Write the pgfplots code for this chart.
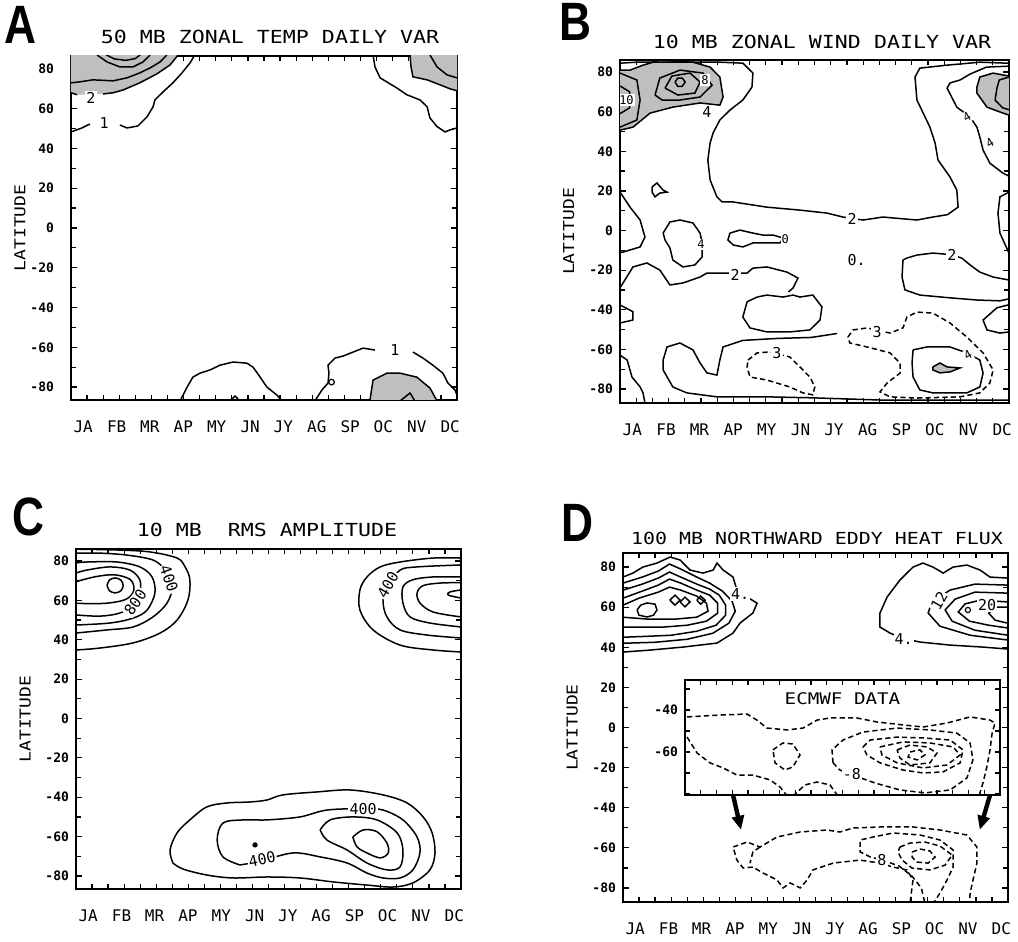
\documentclass[border=0pt]{standalone}
\usepackage{fontspec}
\setmainfont{DejaVu Sans Mono}
\newfontfamily\ttl{DejaVu Sans Mono}[FakeStretch=1.2]
\newfontfamily\lett{Liberation Sans}[FakeStretch=0.82]
\usepackage{pgfplots}
\pgfplotsset{compat=1.18}
\usetikzlibrary{arrows.meta}

\pgfplotsset{
  panel/.style={
    scale only axis, anchor=south west, xmin=0, xmax=12,
    xtick={0.38,1.42,2.45,3.49,4.53,5.57,6.60,7.64,8.68,9.71,10.75,11.79},
    xticklabels={JA,FB,MR,AP,MY,JN,JY,AG,SP,OC,NV,DC},
    major x tick style={draw=none},
    minor xtick={0,0.5,...,12},
    ytick={-80,-60,...,80}, yticklabels={-80,-60,-40,-20,0,20,40,60,80},
    minor ytick={-70,-50,...,70},
    tick align=inside, major tick length=3pt, minor tick length=2.5pt,
    tick style={black, line width=0.6pt},
    axis line style={line width=1pt},
    xticklabel style={font=\fontsize{8}{9}\selectfont, yshift=-7pt},
    yticklabel style={font=\bfseries\fontsize{6.5}{7}\selectfont},
    ylabel={LATITUDE},
    ylabel style={font=\ttl\fontsize{7.5}{8}\selectfont, at={(axis description cs:-0.132,0.5)}, anchor=center},
  },
  cl/.style={black, line width=0.75pt, no markers},
  sl/.style={cl, smooth, tension=0.55},
  dl/.style={cl, dash pattern=on 2.6pt off 1.6pt},
  sh/.style={fill=black!25, draw=none, no markers},
}
\tikzset{lab/.style={font=\fontsize{7.5}{8}\selectfont, fill=white, inner sep=0.6pt},
  letter/.style={font=\lett\bfseries\fontsize{27}{27}\selectfont}}

\begin{document}
\begin{tikzpicture}
\useasboundingbox (0,0) rectangle (509pt,471pt);

% titles and panel letters
\node[letter] at (10pt,458.5pt) {A};
\node[letter] at (287.5pt,460pt) {B};
\node[letter] at (14pt,212.5pt) {C};
\node[letter] at (288.5pt,209.5pt) {D};
\node[font=\ttl\fontsize{9}{10}\selectfont] at (135pt,452.5pt) {50 MB ZONAL TEMP DAILY VAR};
\node[font=\ttl\fontsize{9}{10}\selectfont] at (411pt,450pt) {10 MB ZONAL WIND DAILY VAR};
\node[font=\ttl\fontsize{9}{10}\selectfont] at (133.5pt,206pt) {10 MB\ \ RMS AMPLITUDE};
\node[font=\ttl\fontsize{8.3}{9}\selectfont] at (408.5pt,202pt) {100 MB NORTHWARD EDDY HEAT FLUX};

% ---------------- A ----------------
\begin{axis}[panel, at={(35.5pt,271pt)}, width=193pt, height=172pt,
  ymin=-86.5, ymax=86.5, yticklabel style={xshift=-5pt}]
\addplot[sh] coordinates {(0,87)(0,68)(0.19,67)(1.0,67.4)(1.31,68)(1.62,69.4)(2.14,73)(2.67,77.5)(3.08,82)(3.33,87)};
\addplot[sh] coordinates {(10.54,87)(10.57,81)(10.63,76)(11.07,74.5)(11.47,72)(11.78,70)(12,69)(12,87)};
\addplot[sh] coordinates {(9.29,-87)(9.39,-76.5)(9.82,-73)(10.23,-73)(10.75,-75)(11.16,-80.5)(11.38,-87)};
\addplot[cl] coordinates {(0,68)(0.19,67)};
\addplot[cl] coordinates {(1.0,67.4)(1.31,68)(1.62,69.4)(2.14,73)(2.67,77.5)(3.08,82)(3.33,87)};
\addplot[cl] coordinates {(0,73)(0.28,73.5)(0.68,74.5)(1.31,74)(1.74,75.5)(2.14,78)(2.46,80.5)(2.77,83.5)(2.98,87)};
\addplot[cl] coordinates {(0.81,87)(1.12,83.5)(1.52,81)(1.93,81)(2.24,83.5)(2.46,87)};
\addplot[cl] coordinates {(1.1,87)(1.35,85)(1.7,84.3)(2.0,85.2)(2.15,87)};
\addplot[cl] coordinates {(0,48.3)(0.34,50.3)(0.59,52.3)};
\addplot[cl] coordinates {(1.52,51.8)(1.74,50.3)(2.08,51.3)(2.36,55.8)(2.55,60.9)(2.61,64.4)(2.86,68.4)(3.17,73)(3.45,78)(3.70,83)(3.85,87)};
\addplot[cl] coordinates {(10.54,87)(10.57,81)(10.63,76)(11.07,74.5)(11.47,72)(11.78,70)(12,69)};
\addplot[cl] coordinates {(11.16,87)(11.38,81)(11.69,77)(12,75.5)};
\addplot[cl] coordinates {(9.39,87)(9.45,81)(9.61,75.5)(10.13,70.4)(10.44,67)(10.85,64.4)(11.07,61)(11.16,55.3)(11.38,51)(11.63,48.3)(11.78,49.3)(12,50.3)};
\addplot[cl] coordinates {(3.39,-87)(3.61,-80)(3.79,-75)(4.01,-73)(4.32,-71.4)(4.63,-69)(5.04,-67.4)(5.47,-68)(5.66,-70)(5.88,-75)(6.09,-80)(6.40,-84)(6.56,-87)};
\addplot[cl] coordinates {(4.94,-87)(5.1,-84.5)(5.25,-87)};
\addplot[cl] coordinates {(7.58,-87)(7.80,-81.5)(7.99,-78)(8.02,-73)(7.99,-69)(8.21,-65.4)(8.46,-64.4)(8.77,-62.4)(9.08,-60.4)(9.45,-61.4)};
\addplot[cl] coordinates {(10.63,-62.4)(10.94,-65.4)(11.25,-69)(11.56,-73)(11.72,-78)(11.94,-81.5)(12,-84)};
\addplot[cl] coordinates {(9.29,-87)(9.39,-76.5)(9.82,-73)(10.23,-73)(10.75,-75)(11.16,-80.5)(11.38,-87)};
\addplot[cl] coordinates {(10.23,-87)(10.54,-83)(10.69,-87)};
\addplot[only marks, mark=o, mark size=1.4pt, black, mark options={fill=white, line width=0.6pt}] coordinates {(8.1,-77.5)};
\node[lab] at (axis cs:0.62,65.5) {2};
\node[lab] at (axis cs:1.03,53) {1};
\node[lab] at (axis cs:10.07,-61.4) {1};
\end{axis}

% ---------------- B ----------------
\begin{axis}[panel, at={(310pt,269.5pt)}, width=194.5pt, height=171.5pt,
  ymin=-87.1, ymax=86.1]
\addplot[sh] coordinates {(0,50.7)(0.40,52.2)(0.93,59.3)(1.63,62.3)(2.47,64.4)(3.08,63.3)(3.18,67.4)(3.08,77.5)(2.78,82.5)(2.25,85)(1.23,86)(0.71,83.5)(0.31,81)(0,81)};
\addplot[sh] coordinates {(12,78)(11.51,79.5)(11.10,77.5)(11.01,72.4)(11.01,69.4)(11.32,62.3)(11.81,59.3)(12,58.3)};
\addplot[sh] coordinates {(9.65,-68.9)(9.87,-66.9)(10.09,-68.9)(10.49,-69.4)(10.18,-71.4)(9.87,-71.9)(9.65,-70.4)};
% large "2" contour
\addplot[cl] coordinates {(0,84.5)(0.52,85)(3.08,85)(3.79,84.5)(4.10,79.5)(4.07,72.4)(3.79,65.9)(3.39,60.8)(3.08,55.8)(2.87,49.2)(2.78,44.2)(2.71,35.6)(2.78,25.5)(2.99,17)(3.15,14.4)(3.49,14.4)(4.53,11.8)(5.55,10.3)(6.38,8.8)(6.88,6.8)(7.50,5.3)(8.11,6.8)(9.16,5.3)(9.65,6.8)(10.1,8)(10.43,11.8)(10.39,20.4)(10.18,27)(9.81,35.6)(9.72,44.2)(9.56,52.2)(9.16,65.9)(9.10,77.5)(9.25,82)(10.09,83.5)(11.10,85)(11.94,84.5)(12,84.5)};
% NH high, left
\addplot[cl] coordinates {(0,50.7)(0.40,52.2)(0.93,59.3)(1.63,62.3)(2.47,64.4)(3.08,63.3)(3.18,67.4)(3.08,77.5)(2.78,82.5)(2.25,85)(1.23,86)(0.71,83.5)(0.31,81)(0,81)};
\addplot[cl] coordinates {(1.08,68.4)(1.23,77)(1.85,81)(2.56,79.5)(2.84,73.4)(2.47,67.4)(1.85,65.9)(1.30,65.9)(1.08,68.4)};
\addplot[cl] coordinates {(1.39,71.9)(1.60,78)(2.16,79.5)(2.47,75)(2.31,69.4)(1.79,68.4)(1.39,71.9)};
\addplot[cl] coordinates {(1.70,75)(1.78,77)(1.92,77)(2.01,75)(1.92,72.8)(1.78,72.8)(1.70,75)};
\addplot[cl] coordinates {(0,79.5)(0.52,76)(0.62,65.9)(0.52,55.8)(0,52.2)};
\addplot[cl] coordinates {(0,73)(0.3,70)(0.3,62)(0,59)};
% NH high, right
\addplot[cl] coordinates {(12,78)(11.51,79.5)(11.10,77.5)(11.01,72.4)(11.01,69.4)(11.32,62.3)(11.81,59.3)(12,58.3)};
\addplot[cl] coordinates {(12,77.5)(11.7,76)(11.63,72)(11.57,65.9)(11.8,62)(12,61)};
\addplot[cl] coordinates {(12,83)(11.3,82.5)(10.8,79)(10.49,76)(10.18,74.5)(10.09,71.9)(10.39,62.3)(10.8,57.3)(11.01,52.2)(11.10,47.2)(11.20,40.6)(11.41,34)(11.81,29)(12,27.5)};
\addplot[cl] coordinates {(12,19.4)(11.72,17)(11.66,8.8)(11.72,-1.3)(12,-11.4)};
% tropics
\addplot[cl] coordinates {(0,19.4)(0.31,11.8)(0.62,5.3)(0.77,-3.3)(0.62,-8.3)(0.09,-10.9)(0,-10.9)};
\addplot[cl] coordinates {(0.99,22)(1.14,24)(1.33,20.4)(1.45,19.4)(1.23,18.9)(1.08,17)(0.99,19.4)(0.99,22)};
\addplot[cl] coordinates {(1.33,-1.3)(1.54,4.3)(1.85,5.3)(2.25,3.8)(2.47,-1.3)(2.53,-6.3)(2.53,-13.4)(2.31,-17.4)(1.94,-18.4)(1.63,-14.9)(1.54,-8.8)(1.39,-4.8)(1.33,-1.3)};
\addplot[cl] coordinates {(3.39,-1.3)(3.70,0.2)(4.10,-1.3)(4.41,-2.3)(4.72,-2.3)(5.03,-3.8)(4.94,-6.3)(4.53,-6.3)(4.10,-6.3)(3.79,-8.3)(3.49,-7.3)(3.33,-4.8)(3.39,-1.3)};
\addplot[cl] coordinates {(0,-29)(0.40,-18.4)(0.83,-16.4)(1.23,-20)(1.54,-27.5)(1.94,-26.5)(2.47,-23.5)(2.68,-21.5)(3.15,-21.5)(3.92,-21.5)(4.10,-19)(4.53,-18.4)(5.15,-21)(5.49,-24)(5.34,-29)(5.2,-31)};
\addplot[cl] coordinates {(3.92,-36)(4.23,-33.6)(4.53,-32.6)(5.03,-33.6)(5.34,-32.6)(5.55,-33.6)(5.95,-32.6)(6.23,-38.6)(6.17,-45.2)(5.86,-50.2)(5.24,-51.2)(4.53,-51.2)(4.01,-49.2)(3.79,-43.7)(3.92,-36)};
\addplot[cl] coordinates {(12,-25)(11.51,-23.5)(11.10,-21)(10.80,-17.4)(10.55,-14)(10.24,-12.2)(9.65,-11.4)(9.16,-12.4)(8.85,-13.9)(8.73,-14.9)(8.70,-23.5)(8.79,-30)(9.25,-32.6)(10.18,-34)(11.01,-35.1)(11.72,-35.5)(12,-34.5)};
\addplot[cl] coordinates {(12,-37.5)(11.63,-39)(11.20,-45.2)(11.32,-50.2)(11.72,-51.8)(12,-51.2)};
% SH
\addplot[cl] coordinates {(0,-37.6)(0.40,-41)(0.40,-45.2)(0,-46.7)};
\addplot[cl] coordinates {(0,-62.9)(0.22,-65.4)(0.37,-74)(0.62,-79)(0.71,-82)(0.77,-87.1)};
\addplot[cl] coordinates {(12,-85.6)(8.02,-85.6)(5.95,-84.5)(4.53,-84)(2.99,-84)(2.06,-82)(1.63,-79)(1.33,-70.4)(1.33,-65.4)(1.45,-58.8)(1.85,-56.8)(2.25,-60.3)(2.47,-66.9)(2.68,-71.9)(2.99,-73)(3.08,-65.4)(3.18,-58.8)(3.79,-55.5)(4.84,-54.5)(5.9,-54)(6.7,-52)};
\addplot[dl] coordinates {(3.95,-65.4)(4.23,-61.8)(4.63,-61.3)(5.24,-63.9)(5.55,-68.9)(5.86,-74)(6.01,-79)(5.95,-83)(5.64,-82)(5.24,-79)(4.53,-75.5)(4.01,-74)(3.92,-68.9)(3.95,-65.4)};
\addplot[dl] coordinates {(7.03,-53.8)(7.19,-50.2)(7.62,-49.2)(8.33,-51.8)(8.73,-49.2)(8.85,-43.7)(9.16,-41.2)(9.65,-41.7)(10.18,-46.7)(10.70,-53.8)(11.20,-61.8)(11.51,-70.4)(11.41,-77)(11.10,-82)(10.49,-84)(9.16,-84.6)(8.33,-84)(8.02,-81.5)(8.24,-77)(8.64,-72)(8.64,-67)(8.33,-61.8)(7.62,-58.8)(7.09,-56.8)(7.03,-53.8)};
\addplot[cl] coordinates {(9.04,-60.3)(9.47,-58.8)(10.18,-58.8)(10.70,-61.8)(11.10,-65.4)(11.20,-72)(11.10,-79)(10.70,-82)(9.65,-82)(9.25,-80.5)(9.04,-74)(9.01,-66.9)(9.04,-60.3)};
\addplot[cl] coordinates {(9.65,-68.9)(9.87,-66.9)(10.09,-68.9)(10.49,-69.4)(10.18,-71.4)(9.87,-71.9)(9.65,-70.4)(9.65,-68.9)};
\node[lab] at (axis cs:7.16,5.8) {2};
\node[lab] at (axis cs:3.55,-22.5) {2};
\node[lab] at (axis cs:10.24,-12.5) {2};
\node[lab] at (axis cs:4.84,-61.8) {3};
\node[lab] at (axis cs:7.93,-51.5) {3};
\node[lab] at (axis cs:2.68,59.8) {4};
\node[lab, font=\fontsize{6}{6}\selectfont] at (axis cs:2.62,76) {8};
\node[lab, font=\fontsize{6}{6}\selectfont] at (axis cs:0.2,66) {10};
\node[lab, font=\fontsize{6}{6}\selectfont, rotate=30] at (axis cs:10.73,-62.9) {4};
\node[lab, font=\fontsize{6}{6}\selectfont, rotate=30] at (axis cs:10.7,57.3) {4};
\node[lab, font=\fontsize{6}{6}\selectfont, rotate=30] at (axis cs:11.41,44.2) {4};
\node[lab, font=\fontsize{6}{6}\selectfont] at (axis cs:2.5,-7) {4};
\node[lab, font=\fontsize{6}{6}\selectfont] at (axis cs:5.1,-4.5) {0};
\node[font=\fontsize{7.5}{8}\selectfont] at (axis cs:7.3,-15) {0.};
\end{axis}

% ---------------- C ----------------
\begin{axis}[panel, at={(38pt,26.5pt)}, width=192.5pt, height=170pt,
  ymin=-86.6, ymax=86.1]
\addplot[sl] coordinates {(0,34.8)(0.75,35.8)(1.78,38.4)(2.62,43.4)(3.15,50)(3.49,60.2)(3.55,70.4)(3.40,77)(3.15,81.5)(2.31,84.6)(1.28,85.6)(0,86)};
\addplot[sl] coordinates {(0,43.4)(0.97,45)(1.78,46.5)(2.40,51.6)(2.84,58.7)(2.99,66.8)(2.77,75.4)(2.40,80.5)(1.59,83)(0.75,84)(0,84)};
\addplot[sl] coordinates {(0,47.5)(1.06,48.5)(1.78,51)(2.21,55)(2.46,63.7)(2.37,71.9)(1.99,77)(1.28,79.5)(0.34,79.5)(0,79)};
\addplot[sl] coordinates {(0,52.6)(0.75,52)(1.37,53.6)(1.85,58)(1.99,63.7)(1.99,70.4)(1.68,75.4)(1.06,77)(0.34,75.4)(0,73.9)};
\addplot[sl] coordinates {(0,58.5)(0.9,58.5)(1.55,60.5)(1.8,65)(1.7,70.5)(1.2,73)(0.6,72)(0,69.5)};
\addplot[sl] coordinates {(0.97,67.6)(1.04,70.3)(1.22,71.4)(1.40,70.3)(1.47,67.6)(1.40,64.9)(1.22,63.8)(1.04,64.9)(0.97,67.6)};
\addplot[sl] coordinates {(12,33.8)(11.13,34.8)(10.10,37.3)(9.26,45)(8.85,55.1)(8.85,65.3)(9.07,71.9)(9.48,77)(10.10,79.5)(11.13,81.5)(12,81.5)};
\addplot[sl] coordinates {(12,40.9)(10.94,42.4)(10.10,45)(9.69,51.6)(9.57,60.2)(9.75,68)(10.10,75.4)(10.63,77)(12,78)};
\addplot[sl] coordinates {(12,46.5)(11.03,48.5)(10.41,51.6)(10.19,58.7)(10.19,66.8)(10.50,70.5)(11.13,71.9)(12,71.9)};
\addplot[sl] coordinates {(12,51.6)(11.13,54.1)(10.72,58.7)(10.63,63.7)(10.82,67.5)(11.35,68.8)(12,69)};
\addplot[sl] coordinates {(12,65.3)(11.66,64.3)(11.6,62.7)(12,61.2)};
\addplot[sl] coordinates {(3.02,-73.4)(2.93,-66.8)(3.15,-58.1)(3.55,-51.5)(4.08,-44.9)(4.71,-42.9)(5.42,-42.4)(5.95,-41.4)(6.45,-38.8)(7.51,-37.3)(8.54,-36.3)(9.57,-38.8)(10.32,-42.9)(10.82,-50)(11.10,-58.1)(11.19,-68.3)(11.03,-76.9)(10.50,-83.5)(9.88,-85.6)(9.07,-84.6)(8.01,-83)(6.98,-81)(5.95,-80.5)(4.89,-81)(4.08,-79.5)(3.34,-76.5)(3.02,-73.4)};
\addplot[sl] coordinates {(5.11,-74.4)(4.58,-70.3)(4.40,-61.7)(4.58,-53.1)(5.21,-51.5)(5.95,-51.5)(6.98,-50)(7.82,-46.5)(8.95,-45.8)(9.57,-46.5)(10.19,-51.5)(10.63,-60.2)(10.72,-68.3)(10.50,-76.9)(10.10,-81)(9.57,-81)(9.07,-78.5)(8.45,-73.4)(7.61,-70.3)(6.76,-68.3)(5.74,-72.5)(5.11,-74.4)};
\addplot[sl] coordinates {(7.61,-56.6)(7.92,-51.5)(8.63,-50)(9.38,-51.5)(10.01,-58.1)(10.19,-66.8)(10.10,-75.4)(9.69,-76.9)(9.07,-73.4)(8.45,-66.8)(7.82,-61.7)(7.61,-56.6)};
\addplot[sl] coordinates {(8.63,-60.2)(8.95,-56.6)(9.38,-57.5)(9.69,-63.2)(9.73,-68.3)(9.48,-70.8)(9.07,-68.3)(8.76,-65.2)(8.63,-60.2)};
\addplot[only marks, mark=*, mark size=1.1pt, black] coordinates {(5.58,-64.2)};
\node[lab, rotate=-70] at (axis cs:2.9,71) {400};
\node[lab, rotate=55] at (axis cs:1.85,59) {800};
\node[lab, rotate=60] at (axis cs:9.72,68) {400};
\node[lab] at (axis cs:8.95,-46) {400};
\node[lab, rotate=12] at (axis cs:5.8,-71.5) {400};
\end{axis}

% ---------------- D ----------------
\begin{axis}[panel, at={(311.5pt,20pt)}, width=192.5pt, height=174.5pt,
  ymin=-87, ymax=87]
\addplot[cl] coordinates {(0,37.6)(0.84,38.6)(1.87,40.1)(2.93,42.1)(3.43,47.1)(3.65,52.1)(4.05,57.1)(4.18,62)(3.87,65)(3.55,68.5)(3.43,75)(3.12,78.5)(2.93,82)(2.81,78.5)(2.49,77)(2.09,78.5)(1.78,83.5)(1.47,85)(1.06,82)(0.62,80)(0.31,77)(0,75)};
\addplot[cl] coordinates {(0,72)(0.6,75)(1.1,78)(1.45,81.5)(1.8,79)(2.3,75)(2.7,72)(3.1,68)(3.4,63)(3.5,58)(3.3,52)(2.8,47)(2.0,44)(1.0,42.5)(0,42)};
\addplot[cl] coordinates {(0,68.5)(0.6,71.5)(1.1,74.5)(1.45,77.5)(1.8,75)(2.3,71.5)(2.7,69)(3.0,66)(3.2,61)(3.2,56)(2.9,51)(2.3,48)(1.5,46)(0.8,45.5)(0,45)};
\addplot[cl] coordinates {(0,64.5)(0.6,68)(1.1,71)(1.45,74)(1.8,72)(2.3,68.5)(2.7,66)(2.95,62)(2.95,57)(2.6,53)(2.0,51)(1.2,50)(0.5,50)(0,50)};
\addplot[cl] coordinates {(0,61)(0.5,64.5)(1.1,67.5)(1.45,70)(1.8,68.5)(2.3,65.5)(2.6,62)(2.65,58)(2.3,55)(1.6,54)(0.8,54)(0,55)};
\addplot[cl] coordinates {(0.44,58.6)(0.55,61)(0.75,62.1)(1.0,61.5)(1.06,58.6)(0.95,56)(0.75,55.1)(0.5,56)(0.44,58.6)};
\addplot[cl] coordinates {(1.46,63.5)(1.62,66)(1.78,63.5)(1.62,61)(1.46,63.5)};
\addplot[cl] coordinates {(1.78,62.6)(1.93,65)(2.09,62.6)(1.93,60.2)(1.78,62.6)};
\addplot[cl] coordinates {(2.3,63.5)(2.42,65.5)(2.56,63.5)(2.42,61.5)(2.3,63.5)};
\addplot[cl] coordinates {(12,39.1)(11.22,40.1)(10.19,41.1)(9.26,42.6)(8.70,44.5)(8.32,47.1)(8.01,50.1)(8.01,57.1)(8.23,65)(8.63,73.5)(9.04,80)(9.35,82)(9.66,80)(9.98,77)(10.29,80)(10.72,81)(11.13,78.5)(11.44,75)(12,74.5)};
\addplot[cl] coordinates {(12,71)(10.97,71.5)(10.19,68.5)(9.63,62.6)(9.51,57.1)(9.88,50.5)(10.82,46)(12,43.6)};
\addplot[cl] coordinates {(12,67)(10.97,67.5)(10.35,64)(10.04,58.6)(10.26,53)(10.97,48.5)(12,46)};
\addplot[cl] coordinates {(12,62.6)(11.13,63.5)(10.66,61.6)(10.45,57.6)(10.8,53)(11.4,51)(12,49.6)};
\addplot[cl] coordinates {(12,60)(11.6,60)(11.4,57)(11.6,53.5)(12,52)};
\addplot[only marks, mark=o, mark size=1.3pt, black, mark options={line width=0.6pt}] coordinates {(10.75,58.6)};
% SH dashed
\addplot[dl] coordinates {(8.95,-87)(9.04,-76)(8.85,-71)(8.42,-69.6)(8.01,-67.6)(7.39,-66.1)(6.55,-67.6)(5.92,-71)(5.74,-76)(5.52,-80)(5.21,-77.5)(4.99,-80)(4.80,-76)(4.36,-72.5)(4.05,-69.6)(3.74,-70)(3.55,-66.1)(3.43,-59.6)(3.87,-57.1)(4.27,-59.6)(4.80,-54.6)(5.52,-52.1)(6.36,-51.1)(6.76,-52.1)(7.17,-50.1)(8.01,-49.6)(9.04,-49.6)(9.88,-51.1)(10.72,-53.6)(11.03,-59.6)(11.03,-67.6)(10.91,-76)(10.82,-82.5)(10.8,-87)};
\addplot[dl] coordinates {(4.27,-59.6)(4.05,-62)(3.96,-67.6)};
\addplot[dl] coordinates {(9.4,-87)(9.3,-80)(9.0,-74)(8.6,-69)(8.07,-66.1)(7.7,-64.5)(7.39,-62)(7.39,-56.1)(7.79,-54.6)(8.42,-52.6)(9.26,-53.6)(9.88,-56.1)(10.29,-61.1)(10.29,-69.6)(10.10,-76)(9.88,-82.5)(9.7,-87)};
\addplot[dl] coordinates {(8.63,-59.6)(8.95,-57.6)(9.41,-57.1)(9.88,-59.1)(10.26,-63.6)(10.04,-68.6)(9.57,-71)(9.01,-70.1)(8.70,-66.1)(8.57,-62.1)(8.63,-59.6)};
\addplot[dl] coordinates {(9.01,-62.1)(9.26,-60.6)(9.57,-61.6)(9.73,-64.6)(9.51,-67.6)(9.16,-67.1)(9.01,-64.6)(9.01,-62.1)};
\node[lab] at (axis cs:3.65,66.5) {4.};
\node[lab] at (axis cs:8.75,44.3) {4.};
\node[lab, rotate=60] at (axis cs:9.85,63) {12};
\node[lab] at (axis cs:11.35,61) {20};
\node[lab] at (axis cs:8.07,-66.1) {8};
\draw[-{Triangle[length=7pt,width=6pt]}, line width=2.2pt] (axis cs:3.43,-33.7) -- (axis cs:3.68,-51);
\draw[-{Triangle[length=7pt,width=6pt]}, line width=2.2pt] (axis cs:11.44,-33.7) -- (axis cs:11.12,-51);
\end{axis}

% inset (ECMWF)
\begin{axis}[scale only axis, anchor=south west, at={(342.5pt,73.5pt)}, width=157.5pt, height=57.5pt,
  xmin=0, xmax=12, ymin=-80.5, ymax=-25.7,
  axis background/.style={fill=white},
  xtick={0,0.6,...,12}, xticklabels={},
  ytick={-40,-60}, yticklabels={-40,-60}, minor ytick={-30,-50,-70,-80},
  tick align=inside, major tick length=2.5pt, minor tick length=2.5pt,
  tick style={black, line width=0.6pt}, axis line style={line width=1pt},
  yticklabel style={font=\bfseries\fontsize{6.5}{7}\selectfont}]
\addplot[dl] coordinates {(0.08,-43.3)(1.33,-42.4)(2.36,-41.9)(2.74,-44.8)(3.12,-48.6)(3.89,-49.5)(4.50,-48.6)(5.03,-44.8)(5.52,-43.8)(6.55,-43.8)(7.31,-45.7)(8.30,-47.1)(9.07,-48.1)(9.98,-46.2)(10.86,-43.3)(11.62,-44.8)(11.81,-46.2)(11.70,-51)(11.62,-59)(11.50,-67)(11.35,-74.8)(11.2,-81)};
\addplot[dl] coordinates {(0.08,-52.9)(0.46,-60.5)(0.95,-65.2)(1.45,-67.6)(1.98,-71)(2.59,-71)(3.24,-73.3)(3.62,-76.7)(3.9,-81)};
\addplot[dl] coordinates {(3.35,-59)(3.73,-55.7)(4.11,-56.2)(4.38,-61.4)(4.11,-67.1)(3.81,-68.6)(3.43,-65.2)(3.35,-59)};
\addplot[dl] coordinates {(4.11,-81)(4.57,-75.7)(5.03,-74.3)(5.52,-75.7)(5.83,-81)};
\addplot[dl] coordinates {(5.64,-65.2)(5.60,-59)(6.02,-54.3)(6.78,-50.5)(8.08,-48.6)(9.33,-49.5)(10.36,-51)(10.86,-55.7)(10.97,-63.8)(10.74,-72.4)(10.10,-78.1)(9.14,-79.5)(8.19,-78.1)(7.24,-74.8)(6.48,-71.4)(5.90,-68.6)(5.64,-65.2)};
\addplot[dl] coordinates {(6.78,-57.6)(7.05,-54.3)(8.08,-52.9)(9.07,-53.3)(10.10,-54.3)(10.59,-59)(10.48,-65.2)(9.83,-69.5)(9.07,-70)(8.30,-68.6)(7.43,-65.2)(6.93,-61.4)(6.78,-57.6)};
\addplot[dl] coordinates {(7.43,-57.6)(8.30,-55.2)(9.33,-55.7)(10.21,-57.6)(10.48,-61.4)(9.98,-66.2)(9.07,-67.6)(8.08,-65.2)(7.50,-61.4)(7.43,-57.6)};
\addplot[dl] coordinates {(8.08,-59)(8.57,-56.7)(9.22,-57.6)(9.60,-60.5)(9.33,-65.2)(8.57,-66.2)(8.19,-62.9)(8.08,-59)};
\addplot[dl] coordinates {(8.57,-60)(8.95,-59)(9.14,-61.4)(8.84,-63.8)(8.50,-62.4)(8.57,-60)};
\node[lab] at (axis cs:6.36,-70.5) {-8};
\node[font=\ttl\fontsize{8}{9}\selectfont] at (axis description cs:0.5,0.84) {ECMWF DATA};
\end{axis}
\end{tikzpicture}
\end{document}
